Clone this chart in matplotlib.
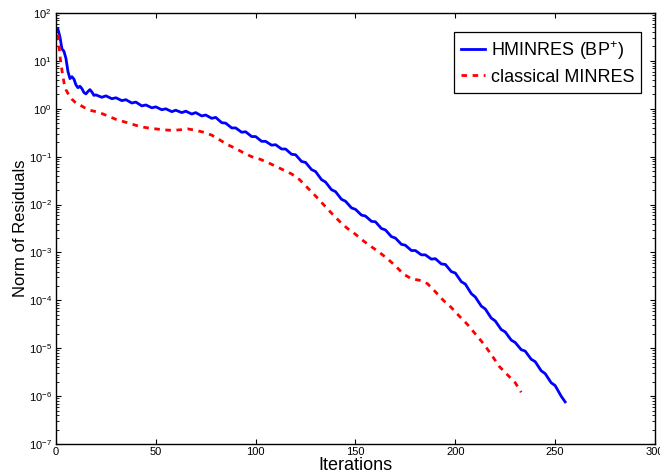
import numpy as np
import matplotlib
matplotlib.use('Agg')
import matplotlib.pyplot as plt
from matplotlib.ticker import LogLocator, FixedLocator

plt.rcParams['font.family'] = ['Liberation Sans', 'DejaVu Sans']
plt.rcParams['mathtext.fontset'] = 'custom'
plt.rcParams['mathtext.rm'] = 'Liberation Sans'
plt.rcParams['mathtext.it'] = 'Liberation Sans:italic'
plt.rcParams['mathtext.default'] = 'regular'

# HMINRES (BP+) : iteraciones y log10 de la norma del residuo
hminres_it = [1, 2, 3, 4, 5, 6, 7, 8, 9, 10, 11, 12, 13, 14, 15, 16, 17, 18, 19,
              20, 23, 25, 28, 30, 33, 35, 38, 40, 43, 45, 48, 50, 53, 55, 58, 60,
              63, 65, 68, 70, 73, 75, 78, 80, 83, 85, 88, 90, 93, 95, 98, 100,
              103, 105, 108, 110, 113, 115, 118, 120, 123, 125, 128, 130, 133,
              135, 138, 140, 143, 145, 148, 150, 153, 155, 158, 160, 163, 165,
              168, 170, 173, 175, 178, 180, 183, 185, 188, 190, 193, 195, 198,
              200, 203, 205, 208, 210, 213, 215, 218, 220, 223, 225, 228, 230,
              233, 235, 238, 240, 243, 245, 248, 250, 253, 255]
hminres_log = [1.66, 1.50, 1.25, 1.20, 1.05, 0.78, 0.63, 0.67, 0.62, 0.50, 0.44,
               0.47, 0.42, 0.34, 0.31, 0.36, 0.40, 0.35, 0.28,
               0.29, 0.24, 0.27, 0.21, 0.23, 0.17, 0.19, 0.12, 0.14, 0.06, 0.08,
               0.02, 0.04, -0.02, 0.00, -0.06, -0.03, -0.08, -0.05, -0.11, -0.08,
               -0.15, -0.13, -0.20, -0.18, -0.29, -0.30, -0.40, -0.40, -0.49,
               -0.48, -0.58, -0.58, -0.68, -0.68, -0.76, -0.75, -0.84, -0.84,
               -0.95, -0.96, -1.10, -1.12, -1.27, -1.31, -1.48, -1.53, -1.69,
               -1.73, -1.89, -1.93, -2.07, -2.10, -2.22, -2.24, -2.35, -2.36,
               -2.50, -2.53, -2.67, -2.70, -2.83, -2.85, -2.96, -2.96, -3.05,
               -3.05, -3.14, -3.13, -3.24, -3.25, -3.40, -3.43, -3.61, -3.66,
               -3.86, -3.93, -4.12, -4.18, -4.37, -4.43, -4.61, -4.66, -4.83,
               -4.88, -5.03, -5.06, -5.23, -5.28, -5.47, -5.53, -5.72, -5.78,
               -6.00, -6.12]

# MINRES clásico
minres_it = [1, 2, 3, 4, 5, 6, 7, 8, 10, 12, 14, 17, 20, 23, 26, 30, 34, 38, 42,
             46, 50, 54, 58, 62, 66, 70, 74, 78, 82, 86, 90, 94, 98, 102, 106,
             110, 114, 118, 122, 126, 130, 134, 138, 142, 146, 150, 154, 158,
             162, 166, 170, 174, 178, 182, 186, 190, 194, 198, 202, 206, 210,
             214, 218, 222, 226, 230, 233]
minres_log = [1.55, 1.10, 0.80, 0.55, 0.40, 0.32, 0.26, 0.20, 0.12, 0.08, 0.03,
              -0.03, -0.06, -0.10, -0.15, -0.22, -0.27, -0.32, -0.37, -0.40,
              -0.42, -0.44, -0.45, -0.44, -0.42, -0.45, -0.49, -0.55, -0.65,
              -0.75, -0.83, -0.92, -1.00, -1.05, -1.12, -1.20, -1.28, -1.36,
              -1.48, -1.65, -1.82, -2.00, -2.18, -2.35, -2.50, -2.62, -2.76,
              -2.88, -3.00, -3.13, -3.28, -3.45, -3.55, -3.58, -3.65, -3.82,
              -4.00, -4.15, -4.33, -4.50, -4.70, -4.90, -5.13, -5.38, -5.55,
              -5.72, -5.92]

fig = plt.figure(figsize=(6.6, 4.76), dpi=100)
ax = fig.add_axes([0.0848, 0.0672, 0.9076, 0.9055])

ax.semilogy(hminres_it, 10.0 ** np.array(hminres_log), color='#0000ff', lw=2.0,
            label='HMINRES (BP$^{+}$)')
ax.semilogy(minres_it, 10.0 ** np.array(minres_log), color='#ff0000', lw=2.0,
            ls=(0, (2, 2)), label='classical MINRES')

ax.set_xlim(0, 300)
ax.set_ylim(1e-7, 1e2)
ax.xaxis.set_major_locator(FixedLocator([0, 50, 100, 150, 200, 250, 300]))
ax.yaxis.set_major_locator(LogLocator(base=10, numticks=20))
ax.yaxis.set_minor_locator(LogLocator(base=10, subs=np.arange(2, 10), numticks=20))
ax.tick_params(which='both', direction='in', top=True, right=True, labelsize=8)
ax.tick_params(which='major', length=3.5, width=0.8)
ax.tick_params(which='minor', length=2, width=0.6)
ax.tick_params(axis='x', pad=2.5)
ax.tick_params(axis='y', pad=3)
for s in ax.spines.values():
    s.set_linewidth(1.0)

ax.set_xlabel('Iterations', fontsize=13, labelpad=0)
ax.set_ylabel('Norm of Residuals', fontsize=12)
ax.yaxis.set_label_coords(-0.046, 0.5)

leg = ax.legend(loc='upper right', bbox_to_anchor=(0.9766, 0.956), fontsize=13,
                fancybox=False, edgecolor='black', framealpha=1,
                borderaxespad=0, handlelength=1.35, handletextpad=0.3,
                borderpad=0.38, labelspacing=0.4)
leg.get_frame().set_linewidth(0.9)

fig.savefig('out.png', dpi=100)
